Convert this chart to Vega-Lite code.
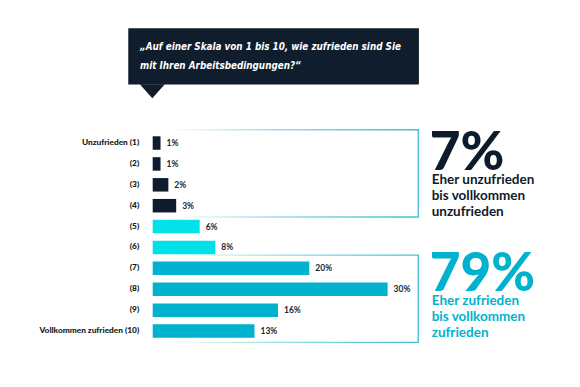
{
  "$schema": "https://vega.github.io/schema/vega-lite/v6.json",
  "width": 580,
  "height": 387,
  "autosize": {"type": "none"},
  "padding": 0,
  "background": "white",
  "config": {"view": {"stroke": null}, "axis": {"disable": true}},
  "datasets": {
    "ratings": [
      {"label": "Unzufrieden (1)", "rating": 1, "pct": 1, "group": "unzufrieden"},
      {"label": "(2)", "rating": 2, "pct": 1, "group": "unzufrieden"},
      {"label": "(3)", "rating": 3, "pct": 2, "group": "unzufrieden"},
      {"label": "(4)", "rating": 4, "pct": 3, "group": "unzufrieden"},
      {"label": "(5)", "rating": 5, "pct": 6, "group": "neutral"},
      {"label": "(6)", "rating": 6, "pct": 8, "group": "neutral"},
      {"label": "(7)", "rating": 7, "pct": 20, "group": "zufrieden"},
      {"label": "(8)", "rating": 8, "pct": 30, "group": "zufrieden"},
      {"label": "(9)", "rating": 9, "pct": 16, "group": "zufrieden"},
      {"label": "Vollkommen zufrieden (10)", "rating": 10, "pct": 13, "group": "zufrieden"}
    ],
    "summary": [
      {"group": "unzufrieden", "share": "7%", "desc": ["Eher unzufrieden", "bis vollkommen", "unzufrieden"], "from": 1, "to": 4},
      {"group": "zufrieden", "share": "79%", "desc": ["Eher zufrieden", "bis vollkommen", "zufrieden"], "from": 7, "to": 10}
    ],
    "one": [{}]
  },
  "layer": [
    {
      "data": {"name": "summary"},
      "mark": {
        "type": "rect",
        "fillOpacity": 0,
        "strokeWidth": 1.3,
        "yOffset": -13.3,
        "y2Offset": 11.3,
        "stroke": {
          "gradient": "linear", "x1": 0, "y1": 0, "x2": 1, "y2": 0,
          "stops": [
            {"offset": 0, "color": "rgba(67,189,210,0)"},
            {"offset": 0.45, "color": "rgba(67,189,210,0.55)"},
            {"offset": 1, "color": "#43bdd2"}
          ]
        }
      },
      "encoding": {
        "x": {"datum": 2, "type": "quantitative", "scale": {"domain": [-19.5, 54.57], "nice": false, "zero": false}},
        "x2": {"datum": 33.92},
        "y": {"field": "from", "type": "quantitative", "scale": {"domain": [-5.609, 12.441], "reverse": true, "nice": false, "zero": false}},
        "y2": {"field": "to"}
      }
    },
    {
      "data": {"name": "one"},
      "mark": {"type": "rect", "color": "#0f1d2c"},
      "encoding": {
        "x": {"datum": -3.12, "type": "quantitative"},
        "x2": {"datum": 34.0},
        "y": {"datum": -4.49, "type": "quantitative"},
        "y2": {"datum": -1.8}
      }
    },
    {
      "data": {"name": "one"},
      "mark": {"type": "point", "shape": "M-1,0L1,0L0,1.12Z", "size": 625, "filled": true, "color": "#0f1d2c", "opacity": 1},
      "encoding": {
        "x": {"datum": -0.05, "type": "quantitative"},
        "y": {"datum": -1.82, "type": "quantitative"}
      }
    },
    {
      "data": {"name": "one"},
      "mark": {
        "type": "text",
        "text": ["„Auf einer Skala von 1 bis 10, wie zufrieden sind Sie", "mit Ihren Arbeitsbedingungen?“"],
        "font": "Liberation Sans Narrow, DejaVu Sans Condensed, sans-serif",
        "fontStyle": "italic",
        "fontWeight": "bold",
        "fontSize": 9.8,
        "lineHeight": 18.7,
        "align": "left",
        "baseline": "middle",
        "color": "white"
      },
      "encoding": {
        "x": {"datum": -1.62, "type": "quantitative"},
        "y": {"datum": -3.60, "type": "quantitative"}
      }
    },
    {
      "data": {"name": "ratings"},
      "mark": {"type": "bar", "orient": "horizontal", "size": 13.5},
      "encoding": {
        "x": {"field": "pct", "type": "quantitative", "stack": null},
        "y": {"field": "rating", "type": "quantitative"},
        "color": {
          "field": "group", "type": "nominal", "legend": null,
          "scale": {"domain": ["unzufrieden", "neutral", "zufrieden"], "range": ["#0e1b2c", "#00e1e8", "#00b2cd"]}
        }
      }
    },
    {
      "data": {"name": "ratings"},
      "transform": [{"calculate": "datum.pct + '%'", "as": "pctLabel"}],
      "mark": {"type": "text", "align": "left", "baseline": "middle", "dx": 6, "font": "Lato", "fontWeight": "bold", "fontSize": 8.5, "color": "#222831"},
      "encoding": {
        "x": {"field": "pct", "type": "quantitative"},
        "y": {"field": "rating", "type": "quantitative"},
        "text": {"field": "pctLabel", "type": "nominal"}
      }
    },
    {
      "data": {"name": "ratings"},
      "mark": {"type": "text", "align": "right", "baseline": "middle", "dx": -13.5, "font": "Lato", "fontWeight": 900, "fontSize": 8.3, "color": "#101820"},
      "encoding": {
        "x": {"datum": 0, "type": "quantitative"},
        "y": {"field": "rating", "type": "quantitative"},
        "text": {"field": "label", "type": "nominal"}
      }
    },
    {
      "data": {"name": "summary"},
      "transform": [{"filter": "datum.group == 'unzufrieden'"}],
      "mark": {"type": "text", "align": "left", "baseline": "alphabetic", "font": "Lato", "fontWeight": 900, "fontSize": 53, "color": "#0e1b2c", "dx": -2},
      "encoding": {
        "x": {"datum": 35.63, "type": "quantitative"},
        "y": {"datum": 2.3, "type": "quantitative"},
        "text": {"field": "share", "type": "nominal"}
      }
    },
    {
      "data": {"name": "summary"},
      "transform": [{"filter": "datum.group == 'unzufrieden'"}],
      "mark": {"type": "text", "align": "left", "baseline": "middle", "font": "Lato", "fontWeight": "bold", "fontSize": 13.5, "lineHeight": 16, "color": "#0e1b2c"},
      "encoding": {
        "x": {"datum": 35.63, "type": "quantitative"},
        "y": {"datum": 2.79, "type": "quantitative"},
        "text": {"field": "desc", "type": "nominal"}
      }
    },
    {
      "data": {"name": "summary"},
      "transform": [{"filter": "datum.group == 'zufrieden'"}],
      "mark": {"type": "text", "align": "left", "baseline": "alphabetic", "font": "Lato", "fontWeight": 900, "fontSize": 53, "color": "#00b2cd", "dx": -2},
      "encoding": {
        "x": {"datum": 35.63, "type": "quantitative"},
        "y": {"datum": 8.1, "type": "quantitative"},
        "text": {"field": "share", "type": "nominal"}
      }
    },
    {
      "data": {"name": "summary"},
      "transform": [{"filter": "datum.group == 'zufrieden'"}],
      "mark": {"type": "text", "align": "left", "baseline": "middle", "font": "Lato", "fontWeight": "bold", "fontSize": 13.5, "lineHeight": 16, "color": "#00b2cd"},
      "encoding": {
        "x": {"datum": 35.63, "type": "quantitative"},
        "y": {"datum": 8.57, "type": "quantitative"},
        "text": {"field": "desc", "type": "nominal"}
      }
    }
  ]
}
